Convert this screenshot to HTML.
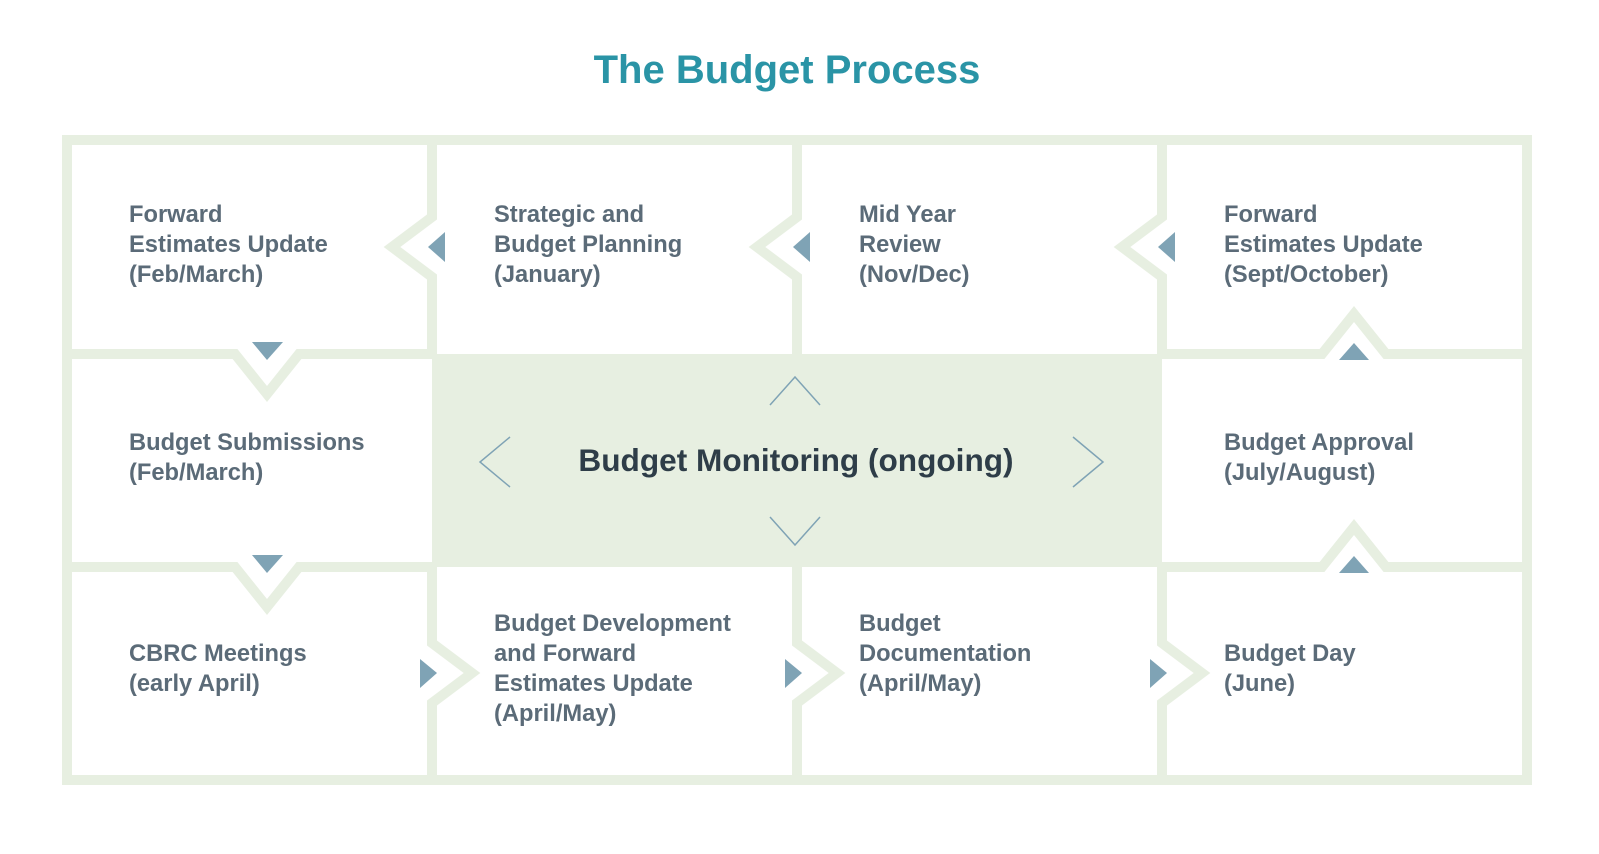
<!DOCTYPE html>
<html><head><meta charset="utf-8"><style>
html,body{margin:0;padding:0;background:#fff;}
svg{display:block;}
text{font-family:"Liberation Sans",Arial,sans-serif;font-weight:bold;}
.t{fill:#5b6b78;font-size:23.7px;}
</style></head><body>
<svg width="1599" height="854" viewBox="0 0 1599 854">
<text x="787" y="83" text-anchor="middle" font-size="40" fill="#2a94a6">The Budget Process</text>
<rect x="432" y="354" width="730" height="213" fill="#e7efe1"/>
<g fill="none" stroke="#e7efe1" stroke-width="10">
<rect x="67" y="140" width="1460" height="640"/>
<path d="M432 140 V217 L392 247 L432 277 V354"/>
<path d="M797 140 V217 L757 247 L797 277 V354"/>
<path d="M1162 140 V217 L1122 247 L1162 277 V354"/>
<path d="M432 567 V643 L472 673 L432 703 V780"/>
<path d="M797 567 V643 L837 673 L797 703 V780"/>
<path d="M1162 567 V643 L1202 673 L1162 703 V780"/>
<path d="M67 354 H235 L267 394 L299 354 H432"/>
<path d="M67 567 H235 L267 607 L299 567 H432"/>
<path d="M1162 354 H1322 L1354 314 L1386 354 H1527"/>
<path d="M1162 567 H1322 L1354 527 L1386 567 H1527"/>
</g>
<g fill="#7fa3b5">
<polygon points="445,232 428,247 445,262"/>
<polygon points="810,232 793,247 810,262"/>
<polygon points="1175,232 1158,247 1175,262"/>
<polygon points="252,342 283,342 267,360"/>
<polygon points="252,555 283,555 267,573"/>
<polygon points="1339,360 1369,360 1354,343"/>
<polygon points="1339,573 1369,573 1354,556"/>
<polygon points="420,659 437,673 420,688"/>
<polygon points="785,659 802,673 785,688"/>
<polygon points="1150,659 1167,673 1150,688"/>
</g>
<g fill="none" stroke="#7fa3b5" stroke-width="1.5">
<polyline points="770,405 795,377 820,405"/>
<polyline points="770,517 795,545 820,517"/>
<polyline points="510,437 480,462 510,487"/>
<polyline points="1073,437 1103,462 1073,487"/>
</g>
<text x="796" y="471" text-anchor="middle" font-size="31.6" fill="#2e3d48">Budget Monitoring (ongoing)</text>
<g class="t">
<text x="129" y="222"><tspan x="129">Forward</tspan><tspan x="129" dy="30">Estimates Update</tspan><tspan x="129" dy="30">(Feb/March)</tspan></text>
<text x="494" y="222"><tspan x="494">Strategic and</tspan><tspan x="494" dy="30">Budget Planning</tspan><tspan x="494" dy="30">(January)</tspan></text>
<text x="859" y="222"><tspan x="859">Mid Year</tspan><tspan x="859" dy="30">Review</tspan><tspan x="859" dy="30">(Nov/Dec)</tspan></text>
<text x="1224" y="222"><tspan x="1224">Forward</tspan><tspan x="1224" dy="30">Estimates Update</tspan><tspan x="1224" dy="30">(Sept/October)</tspan></text>
<text x="129" y="450"><tspan x="129">Budget Submissions</tspan><tspan x="129" dy="30">(Feb/March)</tspan></text>
<text x="1224" y="450"><tspan x="1224">Budget Approval</tspan><tspan x="1224" dy="30">(July/August)</tspan></text>
<text x="129" y="661"><tspan x="129">CBRC Meetings</tspan><tspan x="129" dy="30">(early April)</tspan></text>
<text x="494" y="631"><tspan x="494">Budget Development</tspan><tspan x="494" dy="30">and Forward</tspan><tspan x="494" dy="30">Estimates Update</tspan><tspan x="494" dy="30">(April/May)</tspan></text>
<text x="859" y="631"><tspan x="859">Budget</tspan><tspan x="859" dy="30">Documentation</tspan><tspan x="859" dy="30">(April/May)</tspan></text>
<text x="1224" y="661"><tspan x="1224">Budget Day</tspan><tspan x="1224" dy="30">(June)</tspan></text>
</g>
</svg>
</body></html>
